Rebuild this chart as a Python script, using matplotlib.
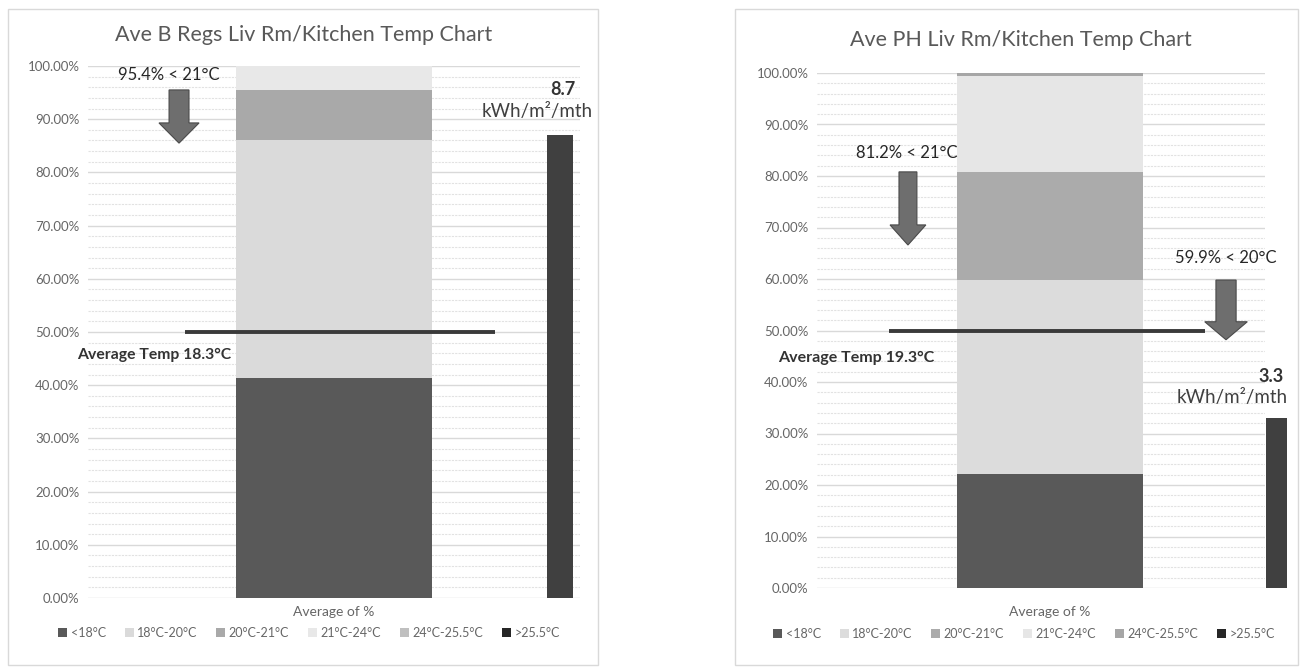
import matplotlib.pyplot as plt
from matplotlib.patches import Patch, Rectangle

plt.rcParams["font.family"] = ["Lato", "DejaVu Sans"]

# ---- datos ----
rangos = ["<18°C", "18°C-20°C", "20°C-21°C", "21°C-24°C", "24°C-25.5°C", ">25.5°C"]

breg_titulo = "Ave B Regs Liv Rm/Kitchen Temp Chart"
breg_pct = [41.3, 44.7, 9.4, 4.6, 0.0, 0.0]
breg_colores = ["#595959", "#dadada", "#a9a9a9", "#e8e8e8", "#bfbfbf", "#262626"]
breg_kwh = 8.7
breg_temp = 18.3
breg_nota = "95.4% < 21°C"

ph_titulo = "Ave PH Liv Rm/Kitchen Temp Chart"
ph_pct = [22.2, 37.7, 20.9, 18.7, 0.5, 0.0]
ph_colores = ["#595959", "#dcdcdc", "#ababab", "#e6e6e6", "#a6a6a6", "#262626"]
ph_kwh = 3.3
ph_temp = 19.3
ph_nota1 = "81.2% < 21°C"
ph_nota2 = "59.9% < 20°C"

KWH_MAX = 10
W, H = 1309, 668

fig = plt.figure(figsize=(13.09, 6.68), dpi=100)
fig.patch.set_facecolor("white")

# marcos de los paneles
for x0, x1 in [(8, 598), (735, 1298)]:
    fig.patches.append(Rectangle((x0 / W, 3 / H), (x1 - x0) / W, 656 / H,
                                 transform=fig.transFigure, fill=False,
                                 edgecolor="#d9d9d9", linewidth=1.0))


def panel(rect, xlim, titulo, tit_x, tit_y, pct, colores, kwh, ancho_bar, x_kwh,
          ancho_kwh, linea_x, leg_x, leg_y, pad_x):
    ax = fig.add_axes(rect)
    fondo = 0
    for nombre, v, c in zip(rangos, pct, colores):
        ax.bar(0, v, width=ancho_bar, bottom=fondo, color=c, label=nombre, zorder=2)
        fondo += v
    ax.set_xlim(*xlim)
    ax.set_ylim(0, 100)
    ax.set_yticks(range(0, 101, 10))
    ax.set_yticklabels([f"{v:.2f}%" for v in range(0, 101, 10)],
                       color="#666666", fontsize=9.5)
    ax.set_yticks(range(0, 101, 2), minor=True)
    ax.grid(axis="y", which="major", color="#d9d9d9", linewidth=1.0, zorder=0)
    ax.grid(axis="y", which="minor", color="#e2e2e2", linewidth=0.8,
            linestyle=(0, (2, 1)), zorder=0)
    ax.set_xticks([0])
    ax.set_xticklabels(["Average of %"], color="#666666", fontsize=10)
    ax.tick_params(axis="y", length=0, which="both", pad=6)
    ax.tick_params(axis="x", length=0, which="both", pad=pad_x)
    for s in ax.spines.values():
        s.set_visible(False)

    # línea de temperatura media
    ax.hlines(50, linea_x[0], linea_x[1], color="#3a3a3a", linewidth=2.8, zorder=4)

    # barra de energía en eje secundario
    ax2 = ax.twinx()
    ax2.bar(x_kwh, kwh, width=ancho_kwh, color="#404040", zorder=3, clip_on=False)
    ax2.set_ylim(0, KWH_MAX)
    ax2.set_yticks([])
    for s in ax2.spines.values():
        s.set_visible(False)

    fig.text(tit_x / W, 1 - tit_y / H, titulo, ha="center", va="center",
             fontsize=15.5, color="#595959")
    handles = [Patch(facecolor=c, edgecolor="none") for c in colores]
    fig.legend(handles, rangos, loc="center", bbox_to_anchor=(leg_x / W, 1 - leg_y / H),
               ncol=6, frameon=False, fontsize=9, labelcolor="#666666",
               handlelength=0.7, handleheight=0.7, handletextpad=0.3,
               columnspacing=1.5)
    return ax, ax2


# ---- panel izquierdo ----
ax, ax2 = panel([88 / W, 70 / H, 492 / W, 532 / H], (-1, 1), breg_titulo, 304, 35,
                breg_pct, breg_colores, breg_kwh, 0.797, 0.919, 0.106,
                (-0.606, 0.654), 309, 633, 6)
ax.arrow(-0.63, 95.5, 0, -6.2, width=0.081, head_width=0.163, head_length=3.8,
         length_includes_head=False, facecolor="#6e6e6e", edgecolor="#4a4a4a",
         linewidth=0.8, zorder=5)
ax.text(-0.67, 98.3, breg_nota, ha="center", va="center", fontsize=12,
        color="#262626", zorder=6)
ax.text(-1.045, 45.7, f"Average Temp {breg_temp}°C", ha="left", va="center",
        fontsize=11.3, fontweight="bold", color="#333333", zorder=6,
        clip_on=False)
ax2.text(0.98, breg_kwh + 0.85, f"{breg_kwh}", ha="right", va="center",
         fontsize=13, fontweight="bold", color="#333333")
ax2.text(0.825, breg_kwh + 0.44, "kWh/m²/mth", ha="center", va="center",
         fontsize=13.5, color="#404040")

# ---- panel derecho ----
ax, ax2 = panel([817 / W, 80 / H, 448 / W, 515 / H], (-1.04, 0.96), ph_titulo, 1021, 40,
                ph_pct, ph_colores, ph_kwh, 0.83, 1.011, 0.094,
                (-0.72, 0.69), 1024, 634, 13)
ax.arrow(-0.634, 80.8, 0, -10.3, width=0.08, head_width=0.16, head_length=3.9,
         length_includes_head=False, facecolor="#6e6e6e", edgecolor="#4a4a4a",
         linewidth=0.8, zorder=5)
ax.arrow(0.786, 59.8, 0, -8.1, width=0.09, head_width=0.19, head_length=3.5,
         length_includes_head=False, facecolor="#6e6e6e", edgecolor="#4a4a4a",
         linewidth=0.8, zorder=5)
ax.text(-0.64, 84.5, ph_nota1, ha="center", va="center", fontsize=12,
        color="#262626", zorder=6)
ax.text(0.786, 64.1, ph_nota2, ha="center", va="center", fontsize=12,
        color="#262626", zorder=6, clip_on=False)
ax.text(-1.214, 44.7, f"Average Temp {ph_temp}°C", ha="left", va="center",
        fontsize=11.5, fontweight="bold", color="#333333", zorder=6,
        clip_on=False)
ax2.text(1.045, ph_kwh + 0.8, f"{ph_kwh}", ha="right", va="center",
         fontsize=13, fontweight="bold", color="#333333")
ax2.text(0.814, ph_kwh + 0.39, "kWh/m²/mth", ha="center", va="center",
         fontsize=13.5, color="#404040")

plt.savefig("out.png", dpi=100, facecolor=fig.get_facecolor())
